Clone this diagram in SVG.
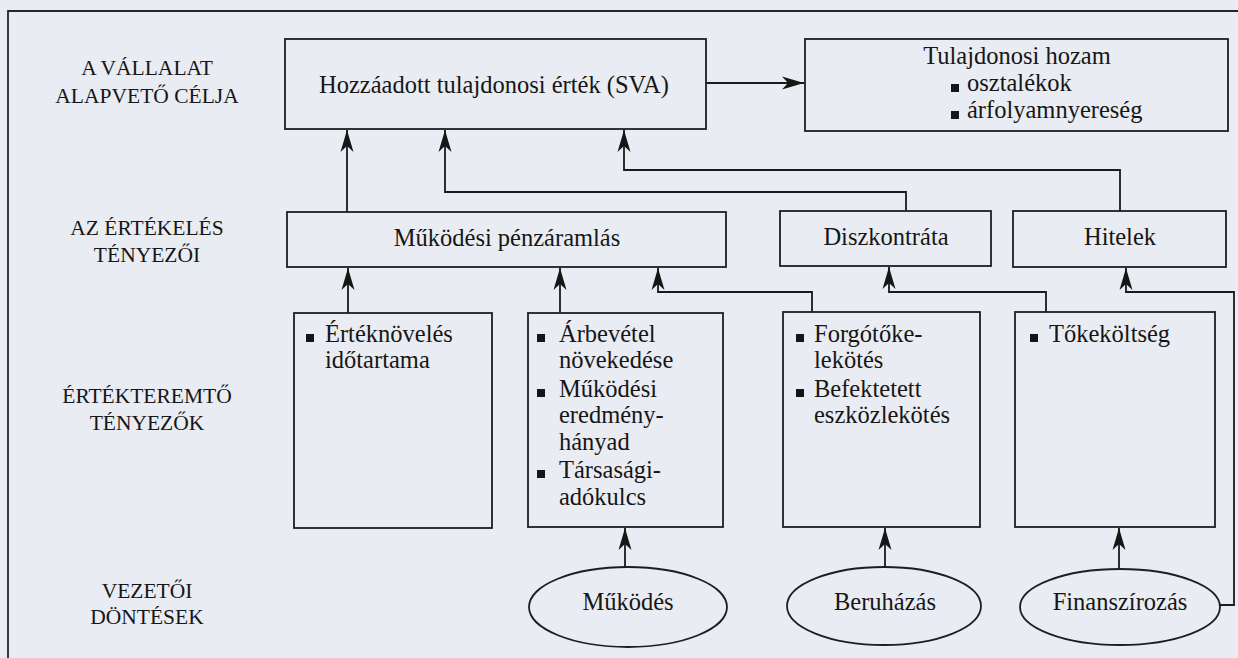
<svg xmlns="http://www.w3.org/2000/svg" width="1238" height="658" viewBox="0 0 1238 658" font-family="Liberation Serif, Times New Roman, serif">
<defs>
<style>
.bg{fill:#e9ecf2}
.frame{fill:none;stroke:#262626;stroke-width:1.8}
.box{fill:none;stroke:#1e1e1e;stroke-width:1.8}
.conn{fill:none;stroke:#1a1a1a;stroke-width:1.8}
.t{font-size:24.5px;fill:#161616}
.lbl{font-size:21.5px;fill:#161616;text-anchor:middle}
.m{text-anchor:middle}
.b{fill:#161616}
</style>
<marker id="ah" markerUnits="userSpaceOnUse" markerWidth="26" markerHeight="16" viewBox="-24 -8 26 16" refX="0" refY="0" orient="auto">
<path d="M0,0 L-22,-6.5 L-16,0 L-22,6.5 Z" fill="#161616"/>
</marker>
</defs>
<rect class="bg" x="0" y="0" width="1238" height="658"/>
<path class="frame" d="M8,662 V11 H1242"/>

<g id="labels">
<text class="lbl" x="147" y="75">A VÁLLALAT</text>
<text class="lbl" x="147" y="103">ALAPVETŐ CÉLJA</text>
<text class="lbl" x="147" y="235">AZ ÉRTÉKELÉS</text>
<text class="lbl" x="147" y="262">TÉNYEZŐI</text>
<text class="lbl" x="147" y="403">ÉRTÉKTEREMTŐ</text>
<text class="lbl" x="147" y="430">TÉNYEZŐK</text>
<text class="lbl" x="147" y="598">VEZETŐI</text>
<text class="lbl" x="147" y="624">DÖNTÉSEK</text>
</g>

<g id="connectors">
<path class="conn" d="M347,212 V130" marker-end="url(#ah)"/>
<path class="conn" d="M906,211 V192 H445 V130" marker-end="url(#ah)"/>
<path class="conn" d="M1120,211 V170 H624 V130" marker-end="url(#ah)"/>
<path class="conn" d="M706,83 H804" marker-end="url(#ah)"/>
<path class="conn" d="M348,313 V268" marker-end="url(#ah)"/>
<path class="conn" d="M560,313 V268" marker-end="url(#ah)"/>
<path class="conn" d="M812,312 V292 H658 V268" marker-end="url(#ah)"/>
<path class="conn" d="M1046,312 V292 H889 V267" marker-end="url(#ah)"/>
<path class="conn" d="M1220,605 H1234 V292 H1126 V268" marker-end="url(#ah)"/>
<path class="conn" d="M625,567 V528" marker-end="url(#ah)"/>
<path class="conn" d="M885,567 V528" marker-end="url(#ah)"/>
<path class="conn" d="M1119,569 V528" marker-end="url(#ah)"/>
</g>

<g id="sva">
<rect class="box" x="285" y="39" width="421" height="90"/>
<text class="t m" x="494" y="93">Hozzáadott tulajdonosi érték (SVA)</text>
</g>

<g id="tulajdonosi-hozam">
<rect class="box" x="805" y="39" width="423" height="92"/>
<text class="t m" x="1017" y="64">Tulajdonosi hozam</text>
<rect class="b" x="951" y="84" width="8" height="8"/>
<text class="t" x="967" y="91">osztalékok</text>
<rect class="b" x="951" y="111" width="8" height="8"/>
<text class="t" x="967" y="118">árfolyamnyereség</text>
</g>

<g id="mukodesi-penzaramlas">
<rect class="box" x="287" y="212" width="439" height="55"/>
<text class="t m" x="507" y="246">Működési pénzáramlás</text>
</g>

<g id="diszkontrata">
<rect class="box" x="780" y="211" width="211" height="55"/>
<text class="t m" x="886" y="245">Diszkontráta</text>
</g>

<g id="hitelek">
<rect class="box" x="1013" y="211" width="213" height="56"/>
<text class="t m" x="1120" y="245">Hitelek</text>
</g>

<g id="ertek-novelesi-idotartam">
<rect class="box" x="294" y="313" width="198" height="215"/>
<rect class="b" x="306" y="334" width="8" height="8"/>
<text class="t" x="325" y="342">Értéknövelés</text>
<text class="t" x="325" y="368">időtartama</text>
</g>

<g id="arbevetel">
<rect class="box" x="528" y="313" width="195" height="214"/>
<rect class="b" x="537" y="334" width="8" height="8"/>
<text class="t" x="559" y="342">Árbevétel</text>
<text class="t" x="559" y="368">növekedése</text>
<rect class="b" x="537" y="389" width="8" height="8"/>
<text class="t" x="559" y="397">Működési</text>
<text class="t" x="559" y="423">eredmény-</text>
<text class="t" x="559" y="450">hányad</text>
<rect class="b" x="537" y="470" width="8" height="8"/>
<text class="t" x="559" y="478">Társasági-</text>
<text class="t" x="559" y="505">adókulcs</text>
</g>

<g id="forgotoke">
<rect class="box" x="783" y="312" width="197" height="215"/>
<rect class="b" x="796" y="334" width="8" height="8"/>
<text class="t" x="814" y="342">Forgótőke-</text>
<text class="t" x="814" y="368">lekötés</text>
<rect class="b" x="796" y="389" width="8" height="8"/>
<text class="t" x="814" y="397">Befektetett</text>
<text class="t" x="814" y="423">eszközlekötés</text>
</g>

<g id="tokekoltseg">
<rect class="box" x="1015" y="312" width="200" height="215"/>
<rect class="b" x="1030" y="334" width="8" height="8"/>
<text class="t" x="1049" y="342">Tőkeköltség</text>
</g>

<g id="mukodes">
<ellipse class="box" cx="628" cy="607" rx="99" ry="40"/>
<text class="t m" x="628" y="610">Működés</text>
</g>

<g id="beruhazas">
<ellipse class="box" cx="884" cy="606" rx="97" ry="39"/>
<text class="t m" x="885" y="610">Beruházás</text>
</g>

<g id="finanszirozas">
<ellipse class="box" cx="1120" cy="607" rx="100" ry="38"/>
<text class="t m" x="1120" y="610">Finanszírozás</text>
</g>
</svg>
